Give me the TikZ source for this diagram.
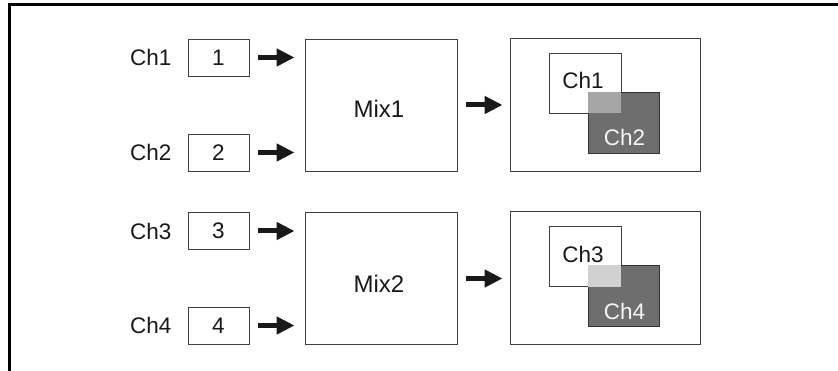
\documentclass[tikz,border=0pt]{standalone}
\usepackage{fontspec}
\setmainfont{Liberation Sans}
\usetikzlibrary{arrows.meta, positioning}

\begin{document}
\begin{tikzpicture}[
  x=1pt, y=-1pt,
  font=\fontsize{22.5}{27}\selectfont,
  every node/.style={inner sep=0pt, text=black!90},
  inbox/.style={draw=black!75, line width=0.9pt, minimum width=61pt, minimum height=37pt},
  mixbox/.style={draw=black!75, line width=0.9pt, minimum width=152pt, minimum height=132pt},
  mixtext/.style={font=\fontsize{24}{28}\selectfont},
  screen/.style={draw=black!75, line width=0.9pt, minimum width=190pt, minimum height=133pt},
  frontwin/.style={draw=black!75, line width=0.9pt, fill=white, minimum width=72pt, minimum height=60pt},
  backwin/.style={draw=black!80, line width=0.9pt, fill=black!57, minimum width=71pt, minimum height=61pt},
  feed/.style={line width=5pt, black!90, -{Triangle[length=18pt,width=17pt]}},
]
  \useasboundingbox (0,0) rectangle (838,371);

  % outer frame (only top and left edge visible)
  \draw[line width=2.7pt] (9.7,371) |- (838,4.7);

  % mixers and outputs
  \node[mixbox] (mix1) at (381,105) {};
  \node[mixbox] (mix2) at (381,278.5) {};
  \node[mixtext] (mixlab1) at (379,109) {Mix1};
  \node[mixtext] (mixlab2) at (379,284) {Mix2};
  \node[screen] (scr1) at (605,104.5) {};
  \node[screen] (scr2) at (605,277.5) {};

  % inputs
  \foreach \i/\y/\m in {1/57.5/1, 2/152.5/1, 3/231/2, 4/325.5/2} {
    \node[inbox] (in\i) at (218.5,\y) {\i};
    \node[left=16pt of in\i] (lab\i) {Ch\i};
    \draw[feed, shorten <=9pt, shorten >=10pt] (in\i.east) -- (in\i.east -| mix\m.west);
  }

  \draw[feed, shorten <=9pt, shorten >=7pt] (mix1.east) -- (mix1.east -| scr1.west);
  \draw[feed, shorten <=9pt, shorten >=7pt] (mix2.east) -- (mix2.east -| scr2.west);

  % picture in picture, top
  \node[frontwin] (win1) at (585,83) {};
  \node[backwin] (win2) at (623.5,122.5) {};
  \fill[black!35] (win2.north west) rectangle (win1.south east);
  \node (txt1) at (583,80.5) {Ch1};
  \node[text=black!4] (txt2) at (624.5,137.5) {Ch2};

  % picture in picture, bottom
  \node[frontwin] (win3) at (585,256.5) {};
  \node[backwin] (win4) at (623.5,295.5) {};
  \fill[black!18] (win4.north west) rectangle (win3.south east);
  \node (txt3) at (583,254) {Ch3};
  \node[text=black!4] (txt4) at (624.5,311) {Ch4};
\end{tikzpicture}
\end{document}
